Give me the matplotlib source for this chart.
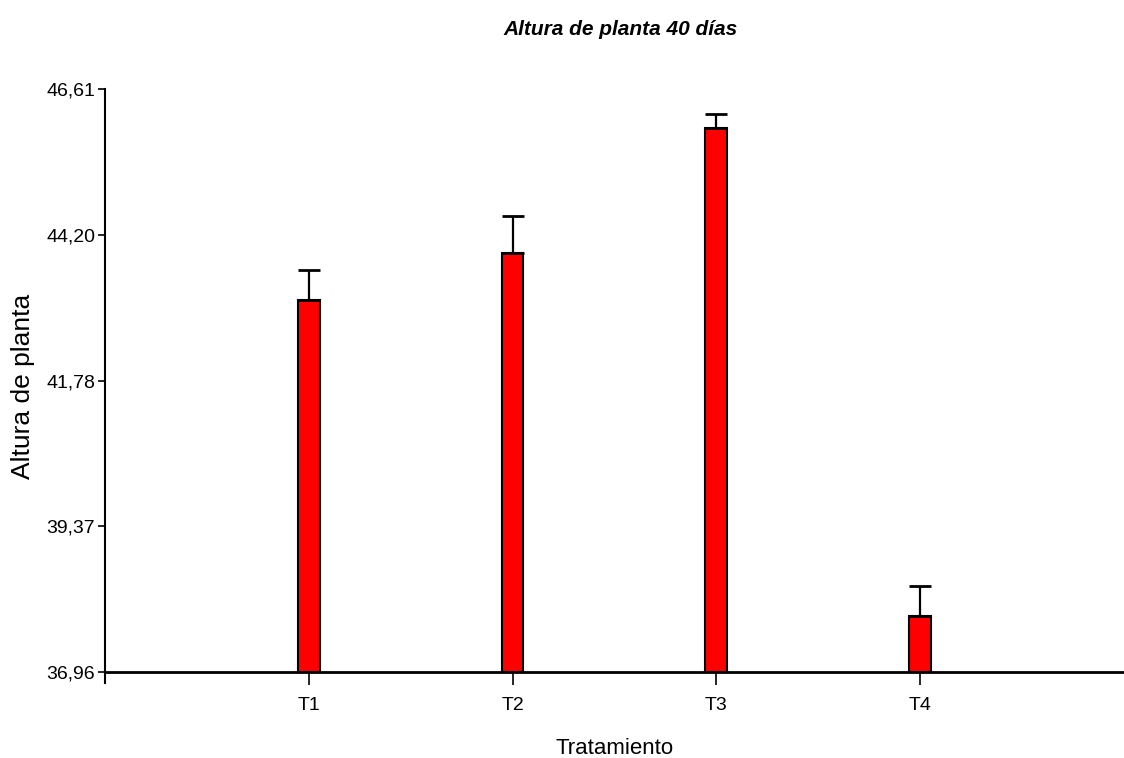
import matplotlib
matplotlib.use("Agg")
import matplotlib.pyplot as plt

categories = ["T1", "T2", "T3", "T4"]
means = [43.11, 43.89, 45.97, 37.88]
errors = [0.50, 0.61, 0.23, 0.50]
yticks = [36.96, 39.37, 41.78, 44.20, 46.61]
ytick_labels = ["36,96", "39,37", "41,78", "44,20", "46,61"]
base = 36.96

fig = plt.figure(figsize=(11.24, 7.58), dpi=100)
ax = fig.add_axes([0.0934, 0.0989, 0.9066, 0.7837])

for s in ["top", "right"]:
    ax.spines[s].set_visible(False)
ax.spines["bottom"].set_position(("data", base))
ax.spines["left"].set_linewidth(1.5)
ax.spines["bottom"].set_linewidth(2)

x = list(range(1, len(categories) + 1))
heights = [m - base for m in means]
ax.bar(x, heights, bottom=base, width=0.107, color="#ff0000", edgecolor="black",
       linewidth=1.5, zorder=2)
ax.errorbar(x, means, yerr=[[0] * len(errors), errors], fmt="none", ecolor="black",
            elinewidth=1.6, capsize=8, capthick=2, zorder=3)

ax.set_xlim(0, 5)
ax.set_ylim(base - 0.182, 46.61)
ax.set_xticks(x)
ax.set_xticklabels(categories, fontfamily="Liberation Sans", fontsize=14)
ax.set_yticks(yticks)
ax.set_yticklabels(ytick_labels, fontfamily="Liberation Sans", fontsize=14)
ax.tick_params(axis="y", direction="out", length=5, width=1.2, pad=2)
ax.tick_params(axis="x", direction="out", length=9, width=1.2, pad=9)

ax.set_xlabel("Tratamiento", fontfamily="Liberation Sans", fontsize=16, labelpad=17)
ax.set_ylabel("Altura de planta", fontfamily="Liberation Sans", fontsize=19, labelpad=8)
fig.text(0.552, 0.961, "Altura de planta 40 días", ha="center", va="center",
         fontfamily="Liberation Sans", fontsize=15, fontweight="bold", fontstyle="italic")

fig.savefig("out.png", dpi=100)
